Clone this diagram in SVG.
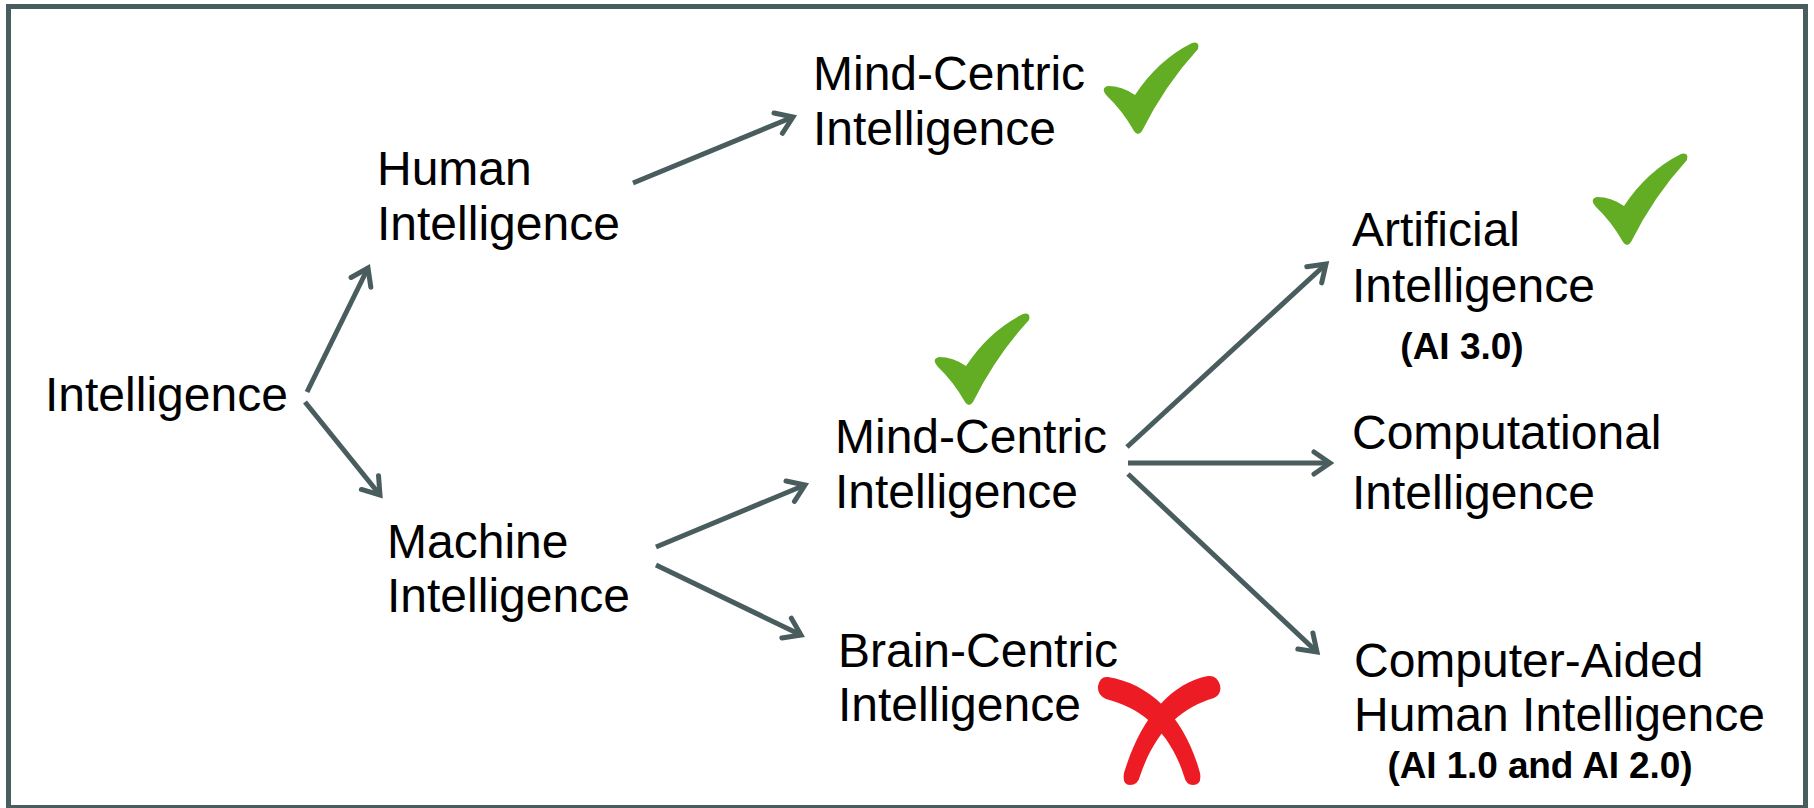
<svg xmlns="http://www.w3.org/2000/svg" width="1814" height="808" viewBox="0 0 1814 808">
<style>
text{font-family:"Liberation Sans",Arial,sans-serif;fill:#000}
.t{font-size:48px}
.s{font-size:37px;font-weight:bold}
.c{fill:none;stroke:#4a5d5e;stroke-width:5;marker-end:url(#ah)}
.chk{fill:#63ad24}
.x{fill:#ed1c24}
</style>
<defs>
<marker id="ah" markerUnits="userSpaceOnUse" viewBox="-25 -15 30 30" markerWidth="30" markerHeight="30" refX="0" refY="0" orient="auto">
<path d="M-16,-11 L0,0 L-16,11" fill="none" stroke="#4a5d5e" stroke-width="5" stroke-linejoin="miter" stroke-linecap="round"/>
</marker>
<path id="check" d="M1,43 Q15,43 28,52 Q51,17 85,0 Q93,-2 91,6 Q58,42 35,88 Q31,94 27,88 Q15,67 0,53 Q-7,45 1,43 Z"/>
</defs>
<rect x="8.5" y="6.5" width="1797" height="801" fill="#fff" stroke="#4a5d5e" stroke-width="5"/>
<g id="connectors">
<line class="c" x1="307" y1="392" x2="368" y2="268"/>
<line class="c" x1="305" y1="402" x2="380" y2="495"/>
<line class="c" x1="633" y1="183" x2="793" y2="117"/>
<line class="c" x1="656" y1="547" x2="805" y2="485"/>
<line class="c" x1="656" y1="565" x2="801" y2="635"/>
<line class="c" x1="1127" y1="447" x2="1326" y2="264"/>
<line class="c" x1="1128" y1="463" x2="1330" y2="463"/>
<line class="c" x1="1128" y1="474" x2="1317" y2="652"/>
</g>
<g id="intelligence"><text class="t" x="45" y="411">Intelligence</text></g>
<g id="human"><text class="t" x="377" y="185">Human</text><text class="t" x="377" y="240">Intelligence</text></g>
<g id="machine"><text class="t" x="387" y="558">Machine</text><text class="t" x="387" y="612">Intelligence</text></g>
<g id="mind-top"><text class="t" x="813" y="90">Mind-Centric</text><text class="t" x="813" y="145">Intelligence</text>
<use href="#check" class="chk" transform="translate(1107,43)"/></g>
<g id="mind-mid"><text class="t" x="835" y="453">Mind-Centric</text><text class="t" x="835" y="508">Intelligence</text>
<use href="#check" class="chk" transform="translate(938,314)"/></g>
<g id="brain"><text class="t" x="838" y="667">Brain-Centric</text><text class="t" x="838" y="721">Intelligence</text>
<path class="x" d="M1108,677 C1152,684 1186,720 1200,773 Q1202,785 1193,785 Q1186,785 1184,776 C1170,732 1142,708 1106,699 Q1097,695 1098,686 Q1100,676 1108,677 Z"/>
<path class="x" d="M1208,676 C1170,683 1140,720 1124,773 Q1122,785 1130,785 Q1138,785 1140,776 C1155,732 1180,708 1214,698 Q1222,694 1220,685 Q1217,675 1208,676 Z"/></g>
<g id="artificial"><text class="t" x="1352" y="246">Artificial</text><text class="t" x="1352" y="302">Intelligence</text>
<text class="s" x="1462" y="359" text-anchor="middle">(AI 3.0)</text>
<use href="#check" class="chk" transform="translate(1596,154)"/></g>
<g id="computational"><text class="t" x="1352" y="449">Computational</text><text class="t" x="1352" y="509">Intelligence</text></g>
<g id="computer-aided"><text class="t" x="1354" y="677">Computer-Aided</text><text class="t" x="1354" y="731">Human Intelligence</text>
<text class="s" x="1540" y="778" text-anchor="middle" textLength="305">(AI 1.0 and AI 2.0)</text></g>
</svg>
